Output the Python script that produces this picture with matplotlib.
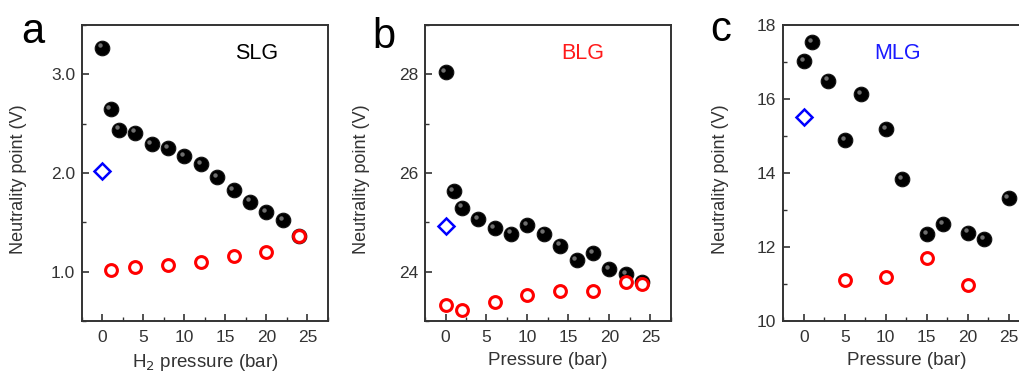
import numpy as np
import matplotlib
matplotlib.use("Agg")
import matplotlib.pyplot as plt
from matplotlib.ticker import MultipleLocator
from matplotlib.transforms import offset_copy

plt.rcParams["font.family"] = ["Liberation Sans", "DejaVu Sans"]

# panel a: single layer graphene
slg_x = [0, 1, 2, 4, 6, 8, 10, 12, 14, 16, 18, 20, 22, 24]
slg_y = [3.27, 2.65, 2.44, 2.41, 2.29, 2.25, 2.17, 2.09, 1.96, 1.83, 1.71, 1.60, 1.52, 1.36]
slg_rx = [1, 4, 8, 12, 16, 20, 24]
slg_ry = [1.02, 1.05, 1.07, 1.10, 1.16, 1.20, 1.36]
slg_bx, slg_by = [0], [2.02]

# panel b: bilayer graphene
blg_x = [0, 1, 2, 4, 6, 8, 10, 12, 14, 16, 18, 20, 22, 24]
blg_y = [28.05, 25.63, 25.30, 25.07, 24.89, 24.77, 24.94, 24.77, 24.53, 24.24, 24.38, 24.05, 23.95, 23.80]
blg_rx = [0, 2, 6, 10, 14, 18, 22, 24]
blg_ry = [23.32, 23.23, 23.39, 23.52, 23.61, 23.61, 23.80, 23.76]
blg_bx, blg_by = [0], [24.93]

# panel c: multilayer graphene
mlg_x = [0, 1, 3, 5, 7, 10, 12, 15, 17, 20, 22, 25]
mlg_y = [17.03, 17.53, 16.50, 14.89, 16.13, 15.19, 13.84, 12.34, 12.61, 12.39, 12.21, 13.32]
mlg_rx = [5, 10, 15, 20]
mlg_ry = [11.12, 11.18, 11.69, 10.97]
mlg_bx, mlg_by = [0], [15.52]

panels = [
    dict(letter="a", tag="SLG", tag_color="black", tag_x=0.71, xlabel="H$_2$ pressure (bar)",
         ylim=(0.5, 3.5), ymaj=1.0, yfmt="%.1f",
         black=(slg_x, slg_y), red=(slg_rx, slg_ry), blue=(slg_bx, slg_by)),
    dict(letter="b", tag="BLG", tag_color="#ff1a1a", tag_x=0.64, xlabel="Pressure (bar)",
         ylim=(23, 29), ymaj=2, yfmt="%d",
         black=(blg_x, blg_y), red=(blg_rx, blg_ry), blue=(blg_bx, blg_by)),
    dict(letter="c", tag="MLG", tag_color="#1a1aff", tag_x=0.465, xlabel="Pressure (bar)",
         ylim=(10, 18), ymaj=2, yfmt="%d",
         black=(mlg_x, mlg_y), red=(mlg_rx, mlg_ry), blue=(mlg_bx, mlg_by)),
]

lefts = [0.0804, 0.4167, 0.768]
letter_pos = [(21, 43), (372, 48), (710, 41)]  # pixel x, baseline y
W, H = 1020, 374
fig = plt.figure(figsize=(10.2, 3.74), dpi=100)

for left, (lx, ly), p in zip(lefts, letter_pos, panels):
    ax = fig.add_axes([left, 0.1417, 0.241, 0.7914])
    ax.plot(*p["black"], ls="none", marker="o", ms=10.5, mfc="black",
            mec="#111111", mew=0.8, zorder=3)
    # glossy highlight on the black spheres
    hl = offset_copy(ax.transData, fig=fig, x=-1.6, y=1.6, units="points")
    ax.plot(*p["black"], ls="none", marker="o", ms=3.2, mfc="#8a8a8a",
            mec="none", alpha=0.8, transform=hl, zorder=4)
    ax.plot(*p["red"], ls="none", marker="o", ms=8.5, mfc="white",
            mec="#ff0000", mew=2.2, zorder=5)
    ax.plot(*p["blue"], ls="none", marker="D", ms=8.5, mfc="white",
            mec="#0000ff", mew=1.8, zorder=5)

    ax.set_xlim(-2.5, 27.5)
    ax.set_ylim(*p["ylim"])
    ax.xaxis.set_major_locator(MultipleLocator(5))
    ax.xaxis.set_minor_locator(MultipleLocator(2.5))
    ax.yaxis.set_major_locator(MultipleLocator(p["ymaj"]))
    ax.yaxis.set_minor_locator(MultipleLocator(p["ymaj"] / 2))
    ax.yaxis.set_major_formatter(plt.FormatStrFormatter(p["yfmt"]))
    ax.tick_params(which="both", direction="in", top=False, right=False,
                   labelsize=12.5, labelcolor="#333333", color="#333333")
    ax.tick_params(axis="x", which="major", pad=6.5)
    ax.tick_params(axis="y", which="major", pad=5)
    ax.tick_params(which="major", length=5, width=1.2)
    ax.tick_params(which="minor", length=3, width=1.0)
    for s in ax.spines.values():
        s.set_linewidth(1.4)
        s.set_color("#333333")
    ax.set_xlabel(p["xlabel"], fontsize=13.5, color="#333333", labelpad=5)
    ax.set_ylabel("Neutrality point (V)", fontsize=13, color="#333333")
    ax.yaxis.set_label_coords(-0.222, 0.48)
    ax.text(p["tag_x"], 0.905, p["tag"], transform=ax.transAxes, fontsize=15.5,
            color=p["tag_color"], ha="center", va="center")
    fig.text(lx / W, 1 - ly / H, p["letter"], fontsize=30, ha="left", va="baseline")

fig.savefig("out.png", dpi=100)
